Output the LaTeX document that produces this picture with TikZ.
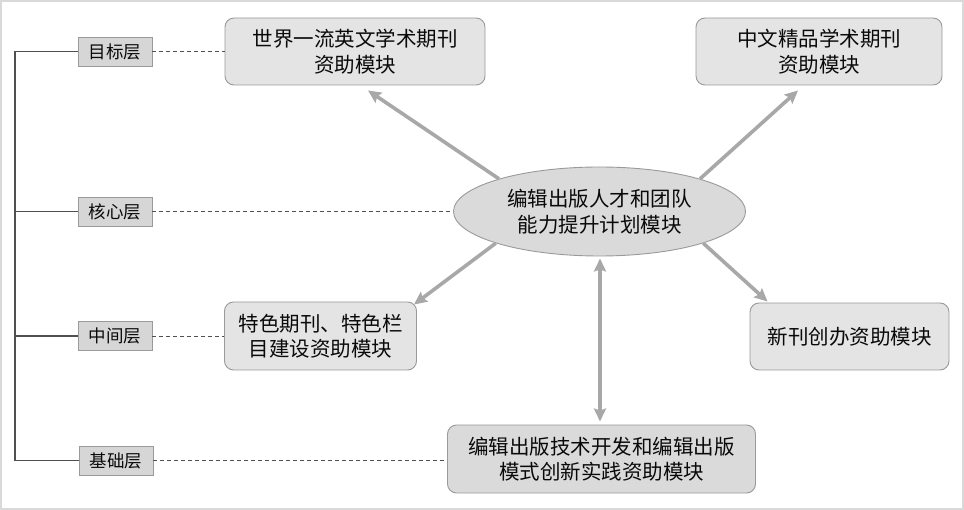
\documentclass[tikz,border=0pt]{standalone}
\usepackage{fontspec}
\setmainfont{Noto Sans CJK SC}
\usetikzlibrary{arrows.meta,shapes.geometric,calc}
\definecolor{framegray}{HTML}{D9D9D9}
\definecolor{boxfill}{HTML}{E4E4E4}
\definecolor{ellfill}{HTML}{DADADA}
\definecolor{labfill}{HTML}{D6D6D6}
\definecolor{edgegray}{HTML}{9A9A9A}
\definecolor{arrgray}{HTML}{A8A8A8}
\definecolor{treegray}{HTML}{505050}
\definecolor{txt}{HTML}{0A0A0A}
\tikzset{
  modbox/.style={draw=edgegray, line width=0.9pt, fill=boxfill, rounded corners=9pt,
    inner sep=0pt, align=center, text=txt, font=\fontsize{20.5}{25.5}\selectfont},
  modell/.style={ellipse, draw=edgegray, line width=0.9pt, fill=ellfill,
    inner sep=0pt, align=center, text=txt, font=\fontsize{20.5}{25.5}\selectfont},
  labbox/.style={draw=edgegray, line width=0.9pt, fill=labfill, inner sep=0pt,
    minimum width=74pt, minimum height=29pt, text=txt, font=\fontsize{17.5}{20}\selectfont},
  tree/.style={draw=treegray, line width=1.1pt},
  dashline/.style={draw=treegray, line width=0.9pt, dash pattern=on 4pt off 3pt},
  arr/.style={draw=arrgray, line width=3.6pt,
    -{Stealth[length=13pt,width=12pt,inset=2pt]}},
  darr/.style={draw=arrgray, line width=3.6pt,
    {Stealth[length=13pt,width=12pt,inset=2pt]}-{Stealth[length=13pt,width=12pt,inset=2pt]}}
}
\begin{document}
\begin{tikzpicture}[x=1pt,y=-1pt]
\useasboundingbox (0,0) rectangle (964,510);
\fill[white] (0,0) rectangle (964,510);
\draw[draw=framegray, line width=2pt] (1,1) rectangle (963,509);

% layer labels
\node[labbox] (lab1) at (115,51.5) {目标层};
\node[labbox] (lab2) at (115,211.5) {核心层};
\node[labbox] (lab3) at (115,336) {中间层};
\node[labbox] (lab4) at (116,460.5) {基础层};

% modules
\node[modbox, minimum width=260pt, minimum height=67pt] (box1) at (355,51.5) {世界一流英文学术期刊\\资助模块};
\node[modbox, minimum width=246pt, minimum height=67pt] (box2) at (819,51.5) {中文精品学术期刊\\资助模块};
\node[modell, minimum width=292pt, minimum height=89pt] (ell) at (599.5,211.5) {编辑出版人才和团队\\能力提升计划模块};
\node[modbox, minimum width=192pt, minimum height=68pt] (box3) at (320.5,336) {特色期刊、特色栏\\目建设资助模块};
\node[modbox, minimum width=199pt, minimum height=67pt] (box4) at (849.5,336.5) {新刊创办资助模块};
\node[modbox, fill=ellfill, minimum width=308pt, minimum height=68pt] (box5) at (601.5,459) {编辑出版技术开发和编辑出版\\模式创新实践资助模块};

% tree on the left
\coordinate (trunk) at (15,0);
\draw[tree] (lab1.west -| trunk) -- (lab4.west -| trunk);
\draw[tree] (lab1.west -| trunk) -- (lab1.west);
\draw[tree] (lab2.west -| trunk) -- (lab2.west);
\draw[tree] (lab3.west -| trunk) -- (lab3.west);
\draw[tree] (lab4.west -| trunk) -- (lab4.west);

% dashed links
\draw[dashline] (lab1.east) -- (box1.west);
\draw[dashline] (lab2.east) -- (ell.west);
\draw[dashline] (lab3.east) -- (box3.west);
\draw[dashline] (lab4.east) -- (lab4.east -| box5.west);

% arrows
\draw[arr] (ell.162) -- ($(box1.south)+(13,5)$);
\draw[arr] (ell.18) -- ($(box2.south)+(-21,5)$);
\draw[arr] (ell.197) -- ($(box3.north east)+(-3,3)$);
\draw[arr] (ell.343) -- ($(box4.north west)+(18,-1)$);
\draw[darr] ($(ell.south)+(0.5,2)$) -- ($(ell.south |- box5.north)+(0.5,-3)$);
\end{tikzpicture}
\end{document}
